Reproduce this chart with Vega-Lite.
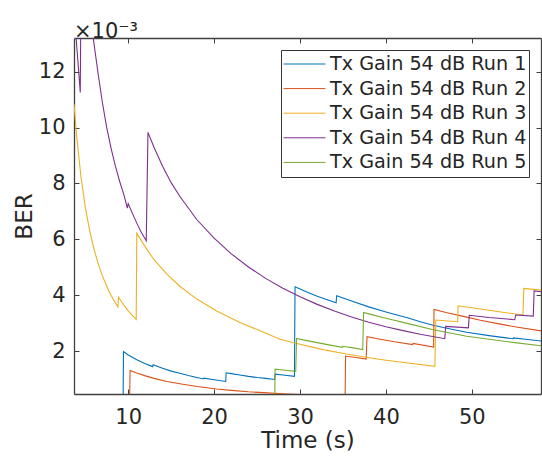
{
"$schema":"https://vega.github.io/schema/vega-lite/v6.json",
"width":467,"height":356,
"autosize":{"type":"none"},
"padding":{"left":74,"top":38,"right":1,"bottom":62},
"background":"white",
"title":{"text":"\u00d710\u207b\u00b3","anchor":"start","frame":"group","fontSize":21,"fontWeight":"normal","font":"DejaVu Sans","color":"#262626","offset":-21,"baseline":"alphabetic"},
"config":{"view":{"stroke":null},"font":"DejaVu Sans"},
"data":{"values":[
{"run":"Tx Gain 54 dB Run 1","t":9.40,"BER":0},
{"run":"Tx Gain 54 dB Run 1","t":9.45,"BER":0.00198},
{"run":"Tx Gain 54 dB Run 1","t":10,"BER":0.00186},
{"run":"Tx Gain 54 dB Run 1","t":11,"BER":0.00169},
{"run":"Tx Gain 54 dB Run 1","t":12,"BER":0.00154},
{"run":"Tx Gain 54 dB Run 1","t":12.85,"BER":0.00144},
{"run":"Tx Gain 54 dB Run 1","t":12.9,"BER":0.00151},
{"run":"Tx Gain 54 dB Run 1","t":14,"BER":0.00138},
{"run":"Tx Gain 54 dB Run 1","t":15,"BER":0.00128},
{"run":"Tx Gain 54 dB Run 1","t":16,"BER":0.00120},
{"run":"Tx Gain 54 dB Run 1","t":17,"BER":0.00112},
{"run":"Tx Gain 54 dB Run 1","t":18,"BER":0.00105},
{"run":"Tx Gain 54 dB Run 1","t":18.75,"BER":0.00100},
{"run":"Tx Gain 54 dB Run 1","t":18.8,"BER":0.00103},
{"run":"Tx Gain 54 dB Run 1","t":20,"BER":0.00097},
{"run":"Tx Gain 54 dB Run 1","t":21.35,"BER":0.00091},
{"run":"Tx Gain 54 dB Run 1","t":21.4,"BER":0.00122},
{"run":"Tx Gain 54 dB Run 1","t":22,"BER":0.00119},
{"run":"Tx Gain 54 dB Run 1","t":23,"BER":0.00114},
{"run":"Tx Gain 54 dB Run 1","t":24,"BER":0.00109},
{"run":"Tx Gain 54 dB Run 1","t":25,"BER":0.00105},
{"run":"Tx Gain 54 dB Run 1","t":26,"BER":0.00102},
{"run":"Tx Gain 54 dB Run 1","t":27.05,"BER":0.00098},
{"run":"Tx Gain 54 dB Run 1","t":27.1,"BER":0.00117},
{"run":"Tx Gain 54 dB Run 1","t":28,"BER":0.00114},
{"run":"Tx Gain 54 dB Run 1","t":29.35,"BER":0.00109},
{"run":"Tx Gain 54 dB Run 1","t":29.42,"BER":0.00430},
{"run":"Tx Gain 54 dB Run 1","t":30,"BER":0.00422},
{"run":"Tx Gain 54 dB Run 1","t":31,"BER":0.00409},
{"run":"Tx Gain 54 dB Run 1","t":32,"BER":0.00396},
{"run":"Tx Gain 54 dB Run 1","t":33,"BER":0.00385},
{"run":"Tx Gain 54 dB Run 1","t":34.2,"BER":0.00373},
{"run":"Tx Gain 54 dB Run 1","t":34.27,"BER":0.00398},
{"run":"Tx Gain 54 dB Run 1","t":35,"BER":0.00390},
{"run":"Tx Gain 54 dB Run 1","t":36,"BER":0.00379},
{"run":"Tx Gain 54 dB Run 1","t":38,"BER":0.00358},
{"run":"Tx Gain 54 dB Run 1","t":40,"BER":0.00340},
{"run":"Tx Gain 54 dB Run 1","t":42.6,"BER":0.00318},
{"run":"Tx Gain 54 dB Run 1","t":44,"BER":0.00305},
{"run":"Tx Gain 54 dB Run 1","t":45.5,"BER":0.00292},
{"run":"Tx Gain 54 dB Run 1","t":47.5,"BER":0.00279},
{"run":"Tx Gain 54 dB Run 1","t":49.4,"BER":0.00267},
{"run":"Tx Gain 54 dB Run 1","t":52,"BER":0.00255},
{"run":"Tx Gain 54 dB Run 1","t":54.8,"BER":0.00244},
{"run":"Tx Gain 54 dB Run 1","t":54.85,"BER":0.00247},
{"run":"Tx Gain 54 dB Run 1","t":56.5,"BER":0.00241},
{"run":"Tx Gain 54 dB Run 1","t":58.05,"BER":0.00236},
{"run":"Tx Gain 54 dB Run 2","t":10.15,"BER":0},
{"run":"Tx Gain 54 dB Run 2","t":10.22,"BER":0.00130},
{"run":"Tx Gain 54 dB Run 2","t":11,"BER":0.00121},
{"run":"Tx Gain 54 dB Run 2","t":12,"BER":0.00111},
{"run":"Tx Gain 54 dB Run 2","t":13,"BER":0.00102},
{"run":"Tx Gain 54 dB Run 2","t":14.5,"BER":0.00091},
{"run":"Tx Gain 54 dB Run 2","t":16,"BER":0.00083},
{"run":"Tx Gain 54 dB Run 2","t":18,"BER":0.00073},
{"run":"Tx Gain 54 dB Run 2","t":20.3,"BER":0.00064},
{"run":"Tx Gain 54 dB Run 2","t":22,"BER":0.00059},
{"run":"Tx Gain 54 dB Run 2","t":24,"BER":0.00054},
{"run":"Tx Gain 54 dB Run 2","t":25.7,"BER":0.00051},
{"run":"Tx Gain 54 dB Run 2","t":28,"BER":0.00047},
{"run":"Tx Gain 54 dB Run 2","t":30,"BER":0.00044},
{"run":"Tx Gain 54 dB Run 2","t":32,"BER":0.00041},
{"run":"Tx Gain 54 dB Run 2","t":35.25,"BER":0.00037},
{"run":"Tx Gain 54 dB Run 2","t":35.3,"BER":0.00182},
{"run":"Tx Gain 54 dB Run 2","t":36.5,"BER":0.00177},
{"run":"Tx Gain 54 dB Run 2","t":37.7,"BER":0.00171},
{"run":"Tx Gain 54 dB Run 2","t":37.8,"BER":0.00251},
{"run":"Tx Gain 54 dB Run 2","t":39,"BER":0.00244},
{"run":"Tx Gain 54 dB Run 2","t":41,"BER":0.00233},
{"run":"Tx Gain 54 dB Run 2","t":43.1,"BER":0.00223},
{"run":"Tx Gain 54 dB Run 2","t":43.15,"BER":0.00227},
{"run":"Tx Gain 54 dB Run 2","t":45.55,"BER":0.00214},
{"run":"Tx Gain 54 dB Run 2","t":45.6,"BER":0.00349},
{"run":"Tx Gain 54 dB Run 2","t":47,"BER":0.00338},
{"run":"Tx Gain 54 dB Run 2","t":49,"BER":0.00324},
{"run":"Tx Gain 54 dB Run 2","t":51,"BER":0.00310},
{"run":"Tx Gain 54 dB Run 2","t":53,"BER":0.00298},
{"run":"Tx Gain 54 dB Run 2","t":55,"BER":0.00287},
{"run":"Tx Gain 54 dB Run 2","t":58.05,"BER":0.00272},
{"run":"Tx Gain 54 dB Run 3","t":3.69,"BER":0.01085},
{"run":"Tx Gain 54 dB Run 3","t":4,"BER":0.0097},
{"run":"Tx Gain 54 dB Run 3","t":4.5,"BER":0.00824},
{"run":"Tx Gain 54 dB Run 3","t":5,"BER":0.00716},
{"run":"Tx Gain 54 dB Run 3","t":5.5,"BER":0.00633},
{"run":"Tx Gain 54 dB Run 3","t":6,"BER":0.00567},
{"run":"Tx Gain 54 dB Run 3","t":6.5,"BER":0.00513},
{"run":"Tx Gain 54 dB Run 3","t":7,"BER":0.00469},
{"run":"Tx Gain 54 dB Run 3","t":7.5,"BER":0.00432},
{"run":"Tx Gain 54 dB Run 3","t":8,"BER":0.00400},
{"run":"Tx Gain 54 dB Run 3","t":8.5,"BER":0.00373},
{"run":"Tx Gain 54 dB Run 3","t":8.8,"BER":0.00358},
{"run":"Tx Gain 54 dB Run 3","t":8.87,"BER":0.00393},
{"run":"Tx Gain 54 dB Run 3","t":9.5,"BER":0.00364},
{"run":"Tx Gain 54 dB Run 3","t":10,"BER":0.00344},
{"run":"Tx Gain 54 dB Run 3","t":10.5,"BER":0.00327},
{"run":"Tx Gain 54 dB Run 3","t":10.93,"BER":0.00313},
{"run":"Tx Gain 54 dB Run 3","t":11.0,"BER":0.00622},
{"run":"Tx Gain 54 dB Run 3","t":12,"BER":0.00572},
{"run":"Tx Gain 54 dB Run 3","t":13,"BER":0.00527},
{"run":"Tx Gain 54 dB Run 3","t":14.5,"BER":0.00475},
{"run":"Tx Gain 54 dB Run 3","t":16,"BER":0.00432},
{"run":"Tx Gain 54 dB Run 3","t":18,"BER":0.00386},
{"run":"Tx Gain 54 dB Run 3","t":20.3,"BER":0.00343},
{"run":"Tx Gain 54 dB Run 3","t":23,"BER":0.00302},
{"run":"Tx Gain 54 dB Run 3","t":25,"BER":0.00277},
{"run":"Tx Gain 54 dB Run 3","t":27.67,"BER":0.00242},
{"run":"Tx Gain 54 dB Run 3","t":30,"BER":0.00224},
{"run":"Tx Gain 54 dB Run 3","t":31.55,"BER":0.00213},
{"run":"Tx Gain 54 dB Run 3","t":33,"BER":0.00203},
{"run":"Tx Gain 54 dB Run 3","t":35.4,"BER":0.00189},
{"run":"Tx Gain 54 dB Run 3","t":38,"BER":0.00176},
{"run":"Tx Gain 54 dB Run 3","t":40,"BER":0.00167},
{"run":"Tx Gain 54 dB Run 3","t":42.6,"BER":0.00157},
{"run":"Tx Gain 54 dB Run 3","t":45.7,"BER":0.00145},
{"run":"Tx Gain 54 dB Run 3","t":45.8,"BER":0.00311},
{"run":"Tx Gain 54 dB Run 3","t":48.35,"BER":0.00305},
{"run":"Tx Gain 54 dB Run 3","t":48.4,"BER":0.00362},
{"run":"Tx Gain 54 dB Run 3","t":50,"BER":0.00355},
{"run":"Tx Gain 54 dB Run 3","t":52,"BER":0.00346},
{"run":"Tx Gain 54 dB Run 3","t":54,"BER":0.00337},
{"run":"Tx Gain 54 dB Run 3","t":55.95,"BER":0.00329},
{"run":"Tx Gain 54 dB Run 3","t":56.05,"BER":0.00424},
{"run":"Tx Gain 54 dB Run 3","t":58.05,"BER":0.00418},
{"run":"Tx Gain 54 dB Run 4","t":3.69,"BER":0.0142},
{"run":"Tx Gain 54 dB Run 4","t":4.42,"BER":0.01126},
{"run":"Tx Gain 54 dB Run 4","t":4.55,"BER":0.0171},
{"run":"Tx Gain 54 dB Run 4","t":5,"BER":0.0156},
{"run":"Tx Gain 54 dB Run 4","t":5.5,"BER":0.0142},
{"run":"Tx Gain 54 dB Run 4","t":6,"BER":0.01305},
{"run":"Tx Gain 54 dB Run 4","t":6.5,"BER":0.01192},
{"run":"Tx Gain 54 dB Run 4","t":7,"BER":0.01089},
{"run":"Tx Gain 54 dB Run 4","t":7.5,"BER":0.0100},
{"run":"Tx Gain 54 dB Run 4","t":8,"BER":0.00927},
{"run":"Tx Gain 54 dB Run 4","t":8.5,"BER":0.00863},
{"run":"Tx Gain 54 dB Run 4","t":9,"BER":0.00808},
{"run":"Tx Gain 54 dB Run 4","t":9.5,"BER":0.00759},
{"run":"Tx Gain 54 dB Run 4","t":9.9,"BER":0.00712},
{"run":"Tx Gain 54 dB Run 4","t":10.0,"BER":0.00728},
{"run":"Tx Gain 54 dB Run 4","t":10.5,"BER":0.00692},
{"run":"Tx Gain 54 dB Run 4","t":11,"BER":0.00658},
{"run":"Tx Gain 54 dB Run 4","t":11.5,"BER":0.00626},
{"run":"Tx Gain 54 dB Run 4","t":12.1,"BER":0.00595},
{"run":"Tx Gain 54 dB Run 4","t":12.3,"BER":0.00983},
{"run":"Tx Gain 54 dB Run 4","t":13,"BER":0.0093},
{"run":"Tx Gain 54 dB Run 4","t":14,"BER":0.00862},
{"run":"Tx Gain 54 dB Run 4","t":15,"BER":0.00803},
{"run":"Tx Gain 54 dB Run 4","t":16,"BER":0.00754},
{"run":"Tx Gain 54 dB Run 4","t":18,"BER":0.0067},
{"run":"Tx Gain 54 dB Run 4","t":20,"BER":0.00604},
{"run":"Tx Gain 54 dB Run 4","t":22,"BER":0.00548},
{"run":"Tx Gain 54 dB Run 4","t":24,"BER":0.00501},
{"run":"Tx Gain 54 dB Run 4","t":26,"BER":0.0046},
{"run":"Tx Gain 54 dB Run 4","t":28,"BER":0.00425},
{"run":"Tx Gain 54 dB Run 4","t":30,"BER":0.00394},
{"run":"Tx Gain 54 dB Run 4","t":32,"BER":0.00367},
{"run":"Tx Gain 54 dB Run 4","t":34,"BER":0.00343},
{"run":"Tx Gain 54 dB Run 4","t":36,"BER":0.00322},
{"run":"Tx Gain 54 dB Run 4","t":38,"BER":0.00303},
{"run":"Tx Gain 54 dB Run 4","t":40,"BER":0.00287},
{"run":"Tx Gain 54 dB Run 4","t":42,"BER":0.00273},
{"run":"Tx Gain 54 dB Run 4","t":44,"BER":0.0026},
{"run":"Tx Gain 54 dB Run 4","t":46.85,"BER":0.00244},
{"run":"Tx Gain 54 dB Run 4","t":46.95,"BER":0.00288},
{"run":"Tx Gain 54 dB Run 4","t":49.6,"BER":0.00283},
{"run":"Tx Gain 54 dB Run 4","t":49.7,"BER":0.00328},
{"run":"Tx Gain 54 dB Run 4","t":52,"BER":0.0032},
{"run":"Tx Gain 54 dB Run 4","t":55,"BER":0.00312},
{"run":"Tx Gain 54 dB Run 4","t":55.1,"BER":0.00329},
{"run":"Tx Gain 54 dB Run 4","t":57.15,"BER":0.00325},
{"run":"Tx Gain 54 dB Run 4","t":57.25,"BER":0.00415},
{"run":"Tx Gain 54 dB Run 4","t":58.05,"BER":0.00412},
{"run":"Tx Gain 54 dB Run 5","t":27.05,"BER":0},
{"run":"Tx Gain 54 dB Run 5","t":27.1,"BER":0.00135},
{"run":"Tx Gain 54 dB Run 5","t":28,"BER":0.00132},
{"run":"Tx Gain 54 dB Run 5","t":29.5,"BER":0.00127},
{"run":"Tx Gain 54 dB Run 5","t":29.6,"BER":0.00245},
{"run":"Tx Gain 54 dB Run 5","t":30.5,"BER":0.00239},
{"run":"Tx Gain 54 dB Run 5","t":32,"BER":0.0023},
{"run":"Tx Gain 54 dB Run 5","t":33.5,"BER":0.00221},
{"run":"Tx Gain 54 dB Run 5","t":34.95,"BER":0.00213},
{"run":"Tx Gain 54 dB Run 5","t":35.0,"BER":0.00217},
{"run":"Tx Gain 54 dB Run 5","t":36,"BER":0.00212},
{"run":"Tx Gain 54 dB Run 5","t":37.3,"BER":0.00205},
{"run":"Tx Gain 54 dB Run 5","t":37.4,"BER":0.00338},
{"run":"Tx Gain 54 dB Run 5","t":38,"BER":0.00333},
{"run":"Tx Gain 54 dB Run 5","t":40,"BER":0.00317},
{"run":"Tx Gain 54 dB Run 5","t":42.6,"BER":0.00298},
{"run":"Tx Gain 54 dB Run 5","t":45.5,"BER":0.00276},
{"run":"Tx Gain 54 dB Run 5","t":49.4,"BER":0.00253},
{"run":"Tx Gain 54 dB Run 5","t":52,"BER":0.00242},
{"run":"Tx Gain 54 dB Run 5","t":55,"BER":0.0023},
{"run":"Tx Gain 54 dB Run 5","t":58.05,"BER":0.00219}
]},
"layer":[
{"mark":{"type":"line","clip":true,"strokeWidth":1.1,"interpolate":"linear"},
 "encoding":{
  "x":{"field":"t","type":"quantitative","scale":{"domain":[3.69,58.05],"nice":false,"zero":false},
       "axis":{"orient":"bottom","values":[10,20,30,40,50],"title":"Time (s)","grid":false,
               "labelFontSize":21,"labelFont":"DejaVu Sans","labelColor":"#262626","labelPadding":17,
               "titleFontSize":23,"titleFont":"DejaVu Sans","titleFontWeight":"normal","titleColor":"#262626","titlePadding":2,
               "tickSize":-5,"tickColor":"#404040","tickWidth":1,"domainColor":"#404040","domainWidth":1.3}},
  "y":{"field":"BER","type":"quantitative","scale":{"domain":[0.00046,0.01321],"nice":false,"zero":false},
       "axis":{"orient":"left","values":[0.002,0.004,0.006,0.008,0.01,0.012],"labelExpr":"format(datum.value*1000,'.0f')","title":"BER","grid":false,
               "labelFontSize":21,"labelFont":"DejaVu Sans","labelColor":"#262626","labelPadding":14,
               "titleFontSize":23,"titleFont":"DejaVu Sans","titleFontWeight":"normal","titleColor":"#262626","titlePadding":2,
               "tickSize":-5,"tickColor":"#404040","tickWidth":1,"domainColor":"#404040","domainWidth":1.3}},
  "color":{"field":"run","type":"nominal",
       "scale":{"domain":["Tx Gain 54 dB Run 1","Tx Gain 54 dB Run 2","Tx Gain 54 dB Run 3","Tx Gain 54 dB Run 4","Tx Gain 54 dB Run 5"],
                "range":["#0072BD","#D95319","#EDB120","#7E2F8E","#77AC30"]},
       "legend":{"title":null,"orient":"none","legendX":207,"legendY":12,"symbolType":"stroke","symbolSize":1764,"symbolStrokeWidth":1,
                 "clipHeight":24,"rowPadding":0.6,"padding":2,"labelOffset":4,"labelLimit":400,
                 "labelFontSize":19.2,"labelFont":"DejaVu Sans","labelColor":"#262626",
                 "strokeColor":"#333333","fillColor":"white"}}
 }},
{"mark":{"type":"point","opacity":0,"clip":true},
 "encoding":{
  "x":{"field":"t","type":"quantitative","axis":{"orient":"top","values":[10,20,30,40,50],"labels":false,"title":null,"grid":false,
        "tickSize":-5,"tickColor":"#404040","tickWidth":1,"domainColor":"#404040","domainWidth":1.3}},
  "y":{"field":"BER","type":"quantitative","axis":{"orient":"right","values":[0.002,0.004,0.006,0.008,0.01,0.012],"labels":false,"title":null,"grid":false,
        "tickSize":-5,"tickColor":"#404040","tickWidth":1,"domainColor":"#404040","domainWidth":1.3}}
 }}
],
"resolve":{"axis":{"x":"independent","y":"independent"}}
}
